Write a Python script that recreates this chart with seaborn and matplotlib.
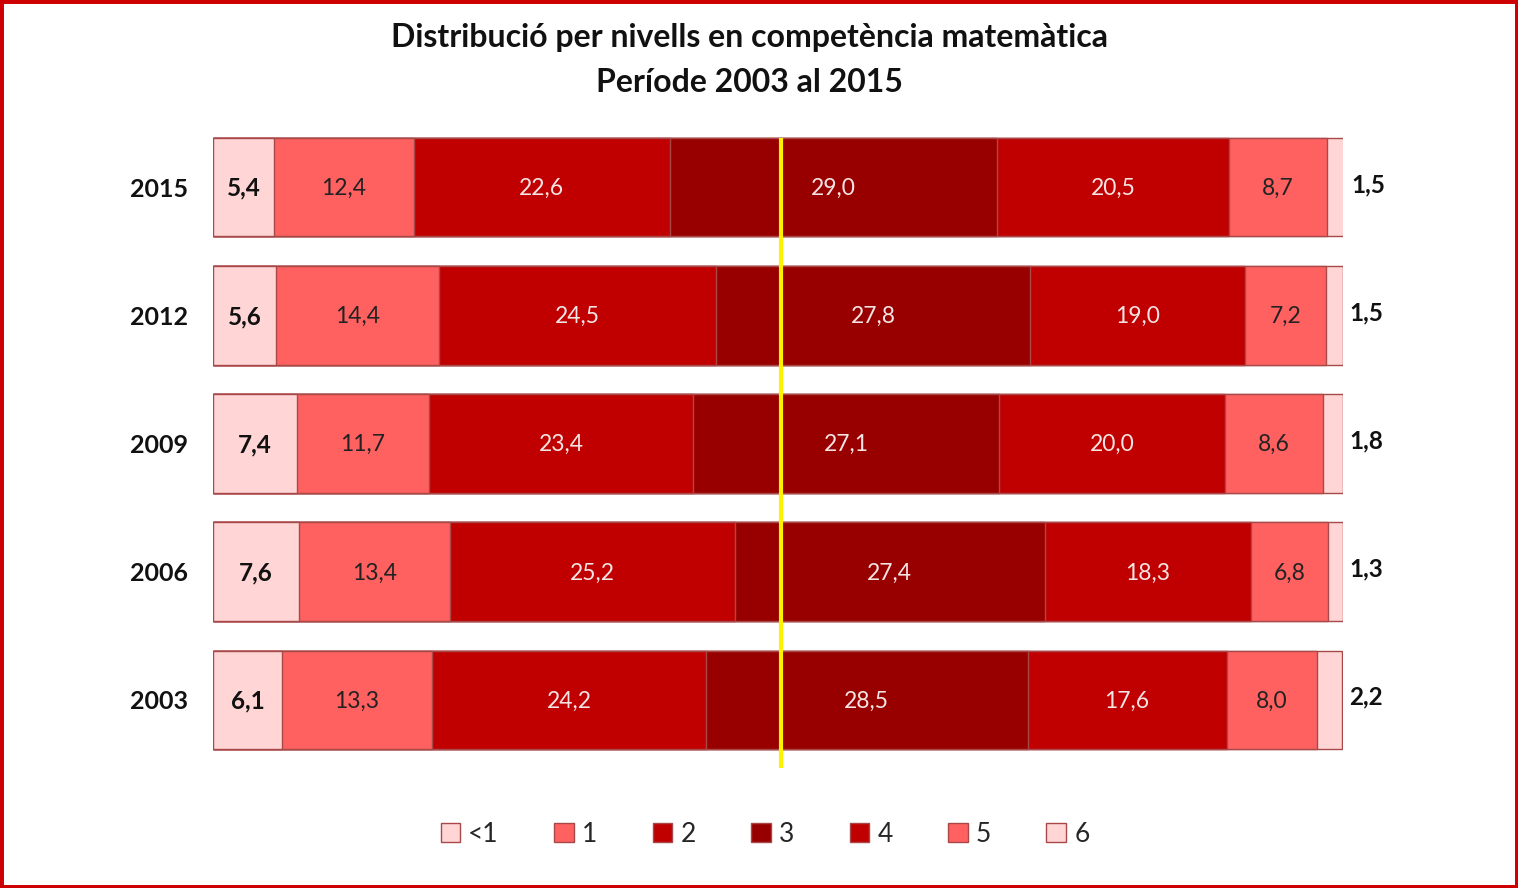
import numpy as np
import pandas as pd
import matplotlib
matplotlib.use("Agg")
import matplotlib.pyplot as plt
from matplotlib.patches import Patch, Rectangle
import seaborn as sns

years = ["2015", "2012", "2009", "2006", "2003"]
levels = ["<1", "1", "2", "3", "4", "5", "6"]
lvl_lt1 = [5.4, 5.6, 7.4, 7.6, 6.1]
lvl_1 = [12.4, 14.4, 11.7, 13.4, 13.3]
lvl_2 = [22.6, 24.5, 23.4, 25.2, 24.2]
lvl_3 = [29.0, 27.8, 27.1, 27.4, 28.5]
lvl_4 = [20.5, 19.0, 20.0, 18.3, 17.6]
lvl_5 = [8.7, 7.2, 8.6, 6.8, 8.0]
lvl_6 = [1.5, 1.5, 1.8, 1.3, 2.2]
median_line = 50.3

colors = ["#FFD5D5", "#FF6161", "#C00000", "#980000", "#C00000", "#FF6161", "#FFD5D5"]
txt_colors = ["#111111", "#222222", "#F4E4E4", "#F4E4E4", "#F4E4E4", "#222222", "#111111"]
txt_weight = ["bold", "normal", "normal", "normal", "normal", "normal", "bold"]
txt_size = [17.5, 16.5, 16.5, 16.5, 16.5, 16.5, 17.5]

sns.set_style("white")
plt.rcParams["font.family"] = ["Lato", "DejaVu Sans"]

vals = np.array([lvl_lt1, lvl_1, lvl_2, lvl_3, lvl_4, lvl_5, lvl_6])
cum = vals.cumsum(axis=0)

fig = plt.figure(figsize=(15.18, 8.88), dpi=100)
ax = fig.add_axes([213 / 1518, 1 - 770 / 888, 1130 / 1518, 634 / 888])

# stacked bars: draw the cumulative totals from the largest down
for i in range(len(levels) - 1, -1, -1):
    df = pd.DataFrame({"year": years, "value": cum[i]})
    sns.barplot(data=df, x="value", y="year", order=years, orient="h",
                color=colors[i], width=0.77, edgecolor="#A84848",
                linewidth=1.0, saturation=1, ax=ax, zorder=2 + (7 - i))

for j, yr in enumerate(years):
    for i in range(len(levels)):
        v = vals[i, j]
        lab = f"{v:.1f}".replace(".", ",")
        if i == len(levels) - 1:
            ax.text(cum[i, j] + 0.6, j - 0.02, lab, ha="left", va="center",
                    fontsize=txt_size[i], fontweight="bold", color="#111111", zorder=20)
        else:
            ax.text(cum[i, j] - v / 2, j + 0.01, lab, ha="center", va="center",
                    fontsize=txt_size[i], fontweight=txt_weight[i], color=txt_colors[i],
                    zorder=20)

ax.vlines(median_line, -0.385, 4.53, color="#FFF200", linewidth=3, zorder=30)

ax.set_xlim(0, 100)
ax.set_ylim(4.546, -0.398)
ax.set_xlabel("")
ax.set_ylabel("")
ax.set_xticks([])
ax.tick_params(axis="y", length=0, pad=18)
for t in ax.get_yticklabels():
    t.set_fontweight("bold")
    t.set_fontsize(18)
    t.set_color("#111111")
sns.despine(ax=ax, left=True, bottom=True)
ax.patch.set_alpha(0)

fig.text(0.494, 1 - 38 / 888, "Distribució per nivells en competència matemàtica",
         ha="center", va="center", fontsize=23, fontweight="bold", color="#111111")
fig.text(0.494, 1 - 83 / 888, "Període 2003 al 2015",
         ha="center", va="center", fontsize=23, fontweight="bold", color="#111111")

handles = [Patch(facecolor=colors[i], edgecolor="#A84848", linewidth=1.0)
           for i in range(len(levels))]
fig.legend(handles, levels, loc="center", bbox_to_anchor=(765 / 1518, 1 - 834 / 888),
           ncol=7, frameon=False, fontsize=19, handlelength=0.75, handleheight=0.75,
           handletextpad=0.3, columnspacing=2.1)

fig.patches.append(Rectangle((0, 0), 1, 1, transform=fig.transFigure, fill=False,
                             edgecolor="#CC0000", linewidth=5, zorder=100))

fig.savefig("out.png", dpi=100)
